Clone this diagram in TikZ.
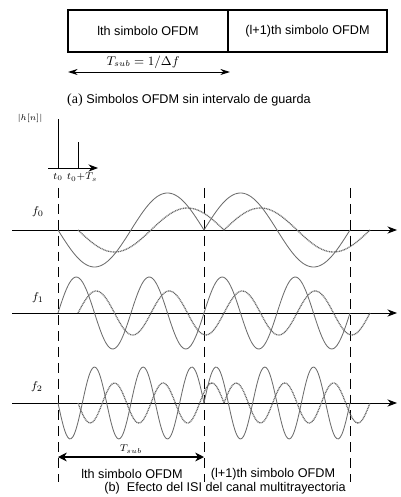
\documentclass[tikz,border=0pt]{standalone}
\usepackage{fontspec}
\setmainfont{Liberation Serif}
\newfontfamily\sansf{Liberation Sans}
\usetikzlibrary{arrows.meta}

\begin{document}
\begin{tikzpicture}[x=0.025cm, y=-0.025cm,
    symbox/.style={draw, line width=0.8pt, minimum height=1.05cm, inner sep=0pt, font=\sansf\fontsize{9}{11}\selectfont},
    lbl/.style={inner sep=0pt, font=\sansf\fontsize{9}{11}\selectfont},
    span/.style={line width=0.7pt, {Stealth[length=2.4mm, width=1.5mm]}-{Stealth[length=2.4mm, width=1.5mm]}},
    spanwide/.style={line width=0.8pt, {Stealth[length=2.2mm, width=2.2mm]}-{Stealth[length=2.2mm, width=2.2mm]}},
    axis/.style={line width=0.7pt, -{Stealth[length=2.4mm, width=1.8mm]}},
    guide/.style={line width=0.7pt, dash pattern=on 7pt off 4.3pt},
    wave/.style={gray!85!black, line width=0.6pt, smooth, samples=90},
    delayed/.style={gray!80!black, line width=0.9pt, dash pattern=on 0.7pt off 0.5pt, smooth, samples=90}
]
  \useasboundingbox (0,0) rectangle (400,497);

  % (a) symbols without guard interval
  \node[symbox, minimum width=4cm] (symA) at (148,31) {lth simbolo OFDM};
  \node[symbox, minimum width=3.975cm] (symB) at (307.5,31) {(l+1)th simbolo OFDM};
  \coordinate (spanAL) at (68,72);
  \coordinate (spanAR) at (230,72);
  \draw[span] (spanAL) -- (spanAR);
  \node[inner sep=0pt, font=\fontsize{9}{10}\selectfont] (tsubA) at (143,62) {$T_{sub}=1/\Delta f$};
  \node[inner sep=0pt] (capA) at (189,100) {\fontsize{10}{12}\selectfont(a) {\sansf\fontsize{9}{11}\selectfont Simbolos OFDM sin intervalo de guarda}};

  % channel impulse response
  \node[inner sep=0pt, font=\fontsize{6}{7}\selectfont] (habs) at (30,118) {$|h[n]|$};
  \coordinate (hax0) at (48,168);
  \coordinate (hax1) at (98,168);
  \coordinate (p0t) at (58,119);
  \coordinate (p0b) at (58,168);
  \coordinate (p1t) at (78,142);
  \coordinate (p1b) at (78,168);
  \draw[axis] (hax0) -- (hax1);
  \draw[line width=0.7pt] (p0b) -- (p0t);
  \draw[line width=0.7pt] (p1b) -- (p1t);
  \node[inner sep=0pt, font=\fontsize{7}{8}\selectfont] (t0) at (58,177) {$t_0$};
  \node[inner sep=0pt, font=\fontsize{7}{8}\selectfont] (t0ts) at (82,177) {$t_0{+}T_s$};

  % symbol boundaries
  \foreach \gx [count=\i] in {58,204,350} {
    \coordinate (g\i t) at (\gx,188);
    \coordinate (g\i b) at (\gx,482);
    \draw[guide] (g\i t) -- (g\i b);
  }

  % subcarrier axes
  \foreach \ay [count=\i from 0] in {230,313,403} {
    \coordinate (ax\i s) at (12,\ay);
    \coordinate (ax\i e) at (397,\ay);
    \draw[axis] (ax\i s) -- (ax\i e);
  }
  \node[inner sep=0pt, font=\fontsize{8}{9}\selectfont] (lf0) at (38,212) {$f_0$};
  \node[inner sep=0pt, font=\fontsize{8}{9}\selectfont] (lf1) at (38,298) {$f_1$};
  \node[inner sep=0pt, font=\fontsize{8}{9}\selectfont] (lf2) at (37,387) {$f_2$};

  % f0
  \draw[wave] plot[domain=58:204] (\x,{230+37*sin(2.46575*(\x-58))});
  \draw[wave] plot[domain=204:350] (\x,{230-37*sin(2.46575*(\x-204))});
  \draw[delayed] plot[domain=78:224] (\x,{230+22*sin(2.46575*(\x-78))});
  \draw[delayed] plot[domain=224:370] (\x,{230-22*sin(2.46575*(\x-224))});

  % f1
  \draw[wave] plot[domain=58:204] (\x,{313-36*sin(4.93151*(\x-58))});
  \draw[wave] plot[domain=204:350] (\x,{313-36*sin(4.93151*(\x-204))});
  \draw[delayed] plot[domain=78:224] (\x,{313-22*sin(4.93151*(\x-78))});
  \draw[delayed] plot[domain=224:370] (\x,{313-22*sin(4.93151*(\x-224))});

  % f2
  \draw[wave] plot[domain=58:204] (\x,{403+36*sin(7.39726*(\x-58))});
  \draw[wave] plot[domain=204:350] (\x,{403-36*sin(7.39726*(\x-204))});
  \draw[delayed] plot[domain=78:224] (\x,{403+20*sin(7.39726*(\x-78))});
  \draw[delayed] plot[domain=224:370] (\x,{403-20*sin(7.39726*(\x-224))});

  % (b) ISI of the multipath channel
  \coordinate (spanBL) at (58,457);
  \coordinate (spanBR) at (204,457);
  \draw[spanwide] (spanBL) -- (spanBR);
  \node[inner sep=0pt, font=\fontsize{7}{8}\selectfont] (tsubB) at (131,449) {$T_{sub}$};
  \node[lbl] (symC) at (132,474) {lth simbolo OFDM};
  \node[lbl] (symD) at (273,474) {(l+1)th simbolo OFDM};
  \node[lbl] (capB) at (225,488) {(b)\ \ Efecto del ISI del canal multitrayectoria};
\end{tikzpicture}
\end{document}
